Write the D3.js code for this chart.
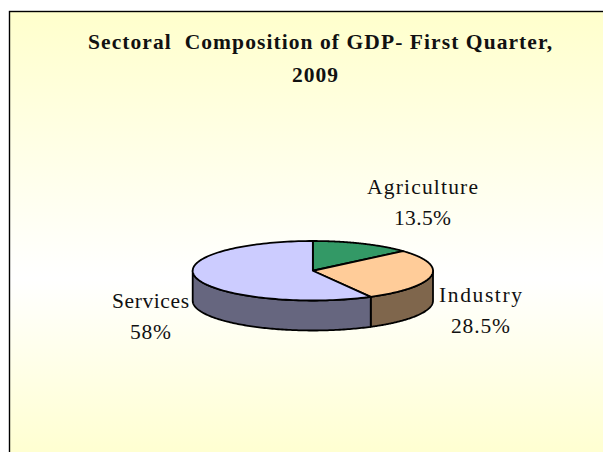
<!DOCTYPE html>
<html><head><meta charset="utf-8">
<script src="https://cdnjs.cloudflare.com/ajax/libs/d3/7.8.5/d3.min.js"></script>
<style>html,body{margin:0;padding:0;background:#fff;overflow:hidden}svg{display:block}text{font-family:"Liberation Serif",serif;fill:#111}</style>
</head><body><svg id="c" width="603" height="452"></svg>
<script>
const categories=["Agriculture","Industry","Services"];
const values=[13.5,28.5,58];
const valueLabels=["13.5%","28.5%","58%"];
const topColors=["#339966","#FFCC99","#CCCCFF"];
const sideColors=["#1a4d33","#7F664C","#66667F"];
const titleLines=["Sectoral  Composition of GDP- First Quarter,","2009"];

const svg=d3.select("#c");
const grad=svg.append("defs").append("linearGradient").attr("id","bg").attr("x1",0).attr("x2",0).attr("y1",0).attr("y2",1);
[[0,"#ffffcc"],[0.58,"#ffffff"],[1,"#ffffcc"]].forEach(s=>grad.append("stop").attr("offset",s[0]).attr("stop-color",s[1]));
svg.append("rect").attr("x",9.5).attr("y",11.5).attr("width",610).attr("height",460).attr("fill","url(#bg)").attr("stroke","#000").attr("stroke-width",1.4);

const titleLayout=[[320,49,464],[315,82,46]];
svg.selectAll("text.title").data(titleLines).join("text").attr("class","title")
  .attr("x",(d,i)=>titleLayout[i][0]).attr("y",(d,i)=>titleLayout[i][1]).attr("text-anchor","middle")
  .attr("font-size",21.5).attr("font-weight","bold").attr("textLength",(d,i)=>titleLayout[i][2]).attr("lengthAdjust","spacing")
  .style("white-space","pre").text(d=>d);

const x=d3.scaleLinear().domain([-1,1]).range([192.7,433]);
const y=d3.scaleLinear().domain([-1,1]).range([241,300.5]);
const depth=30;
const cx=x(0),cy=y(0);
const arcs=d3.pie().sort(null).value(d=>d)(values);
const px=a=>x(Math.sin(a)),py=a=>y(-Math.cos(a));
const line=d3.line().x(d=>d[0]).y(d=>d[1]);
const edge=(a0,a1,dy)=>d3.range(0,121).map(i=>{const a=a0+(a1-a0)*i/120;return [px(a),py(a)+dy];});

const g=svg.append("g").attr("stroke","#000").attr("stroke-width",1.8).attr("stroke-linejoin","round");
arcs.forEach((d,i)=>{
  const a0=Math.max(d.startAngle,Math.PI/2),a1=Math.min(d.endAngle,Math.PI*1.5);
  if(a1<=a0)return;
  const pts=edge(a0,a1,0).concat(edge(a1,a0,depth));
  g.append("path").attr("d",line(pts)+"Z").attr("fill",sideColors[i]);
});
arcs.forEach((d,i)=>{
  const pts=[[cx,cy]].concat(edge(d.startAngle,d.endAngle,0));
  g.append("path").attr("d",line(pts)+"Z").attr("fill",topColors[i]);
});

// x, name baseline, value baseline, name width, value width
const labelLayout=[[422.5,194,225,111,57],[480.5,302,333,83,59],[150.5,308,339,77,41]];
categories.forEach((c,i)=>{
  const l=labelLayout[i];
  svg.append("text").attr("x",l[0]).attr("y",l[1]).attr("text-anchor","middle").attr("font-size",21.5).attr("textLength",l[3]).attr("lengthAdjust","spacing").text(c);
  svg.append("text").attr("x",l[0]).attr("y",l[2]).attr("text-anchor","middle").attr("font-size",21.5).attr("textLength",l[4]).attr("lengthAdjust","spacing").text(valueLabels[i]);
});
</script></body></html>
